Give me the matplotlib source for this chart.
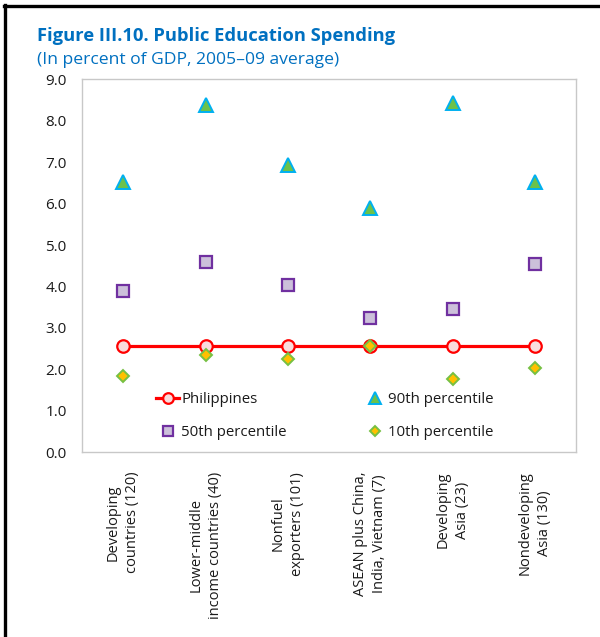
import matplotlib
matplotlib.use("Agg")
import matplotlib.pyplot as plt
from matplotlib.lines import Line2D

plt.rcParams["font.family"] = ["Open Sans", "DejaVu Sans"]

categories = [
    "Developing\ncountries (120)",
    "Lower-middle\nincome countries (40)",
    "Nonfuel\nexporters (101)",
    "ASEAN plus China,\nIndia, Vietnam (7)",
    "Developing\nAsia (23)",
    "Nondeveloping\nAsia (130)",
]
philippines = [2.56, 2.56, 2.56, 2.56, 2.56, 2.56]
p90 = [6.51, 8.37, 6.94, 5.89, 8.42, 6.51]
p50 = [3.88, 4.58, 4.03, 3.23, 3.46, 4.54]
p10 = [1.83, 2.34, 2.26, 2.56, 1.77, 2.03]
yticks = [0.0, 1.0, 2.0, 3.0, 4.0, 5.0, 6.0, 7.0, 8.0, 9.0]

W, H = 600, 637
fig = plt.figure(figsize=(W / 100, H / 100), dpi=100)
ax = fig.add_axes([82 / W, 1 - 452.3 / H, (576 - 82) / W, (452.3 - 79.3) / H])

x = list(range(len(categories)))

ax.plot(x, philippines, color="#FF0000", lw=2.3, marker="o", ms=9,
        mfc="#F9DCDC", mec="#FF0000", mew=1.6, label="Philippines", zorder=3)
ax.plot(x, p90, ls="none", marker="^", ms=9.5, mfc="#6CC24A", mec="#00B0F0",
        mew=1.4, label="90th percentile", zorder=4)
ax.plot(x, p50, ls="none", marker="s", ms=8.5, mfc="#CCC0DA", mec="#7030A0",
        mew=1.6, label="50th percentile", zorder=4)
ax.plot(x, p10, ls="none", marker="D", ms=6.3, mfc="#FFC000", mec="#76C043",
        mew=1.4, label="10th percentile", zorder=5)

ax.set_xlim(-0.5, len(categories) - 0.5)
ax.set_ylim(0, 9)
ax.set_yticks(yticks)
ax.set_yticklabels([f"{v:.1f}" for v in yticks])
ax.set_xticks(x)
ax.set_xticklabels(categories, rotation=90, ha="center", va="top",
                   multialignment="center", linespacing=1.4)
ax.tick_params(axis="both", length=0, colors="#1a1a1a")
ax.tick_params(axis="y", pad=11, labelsize=11)
ax.tick_params(axis="x", pad=14, labelsize=10.5)
for s in ax.spines.values():
    s.set_color("#C8C8C8")
    s.set_linewidth(1.0)

handles, labels = ax.get_legend_handles_labels()
order = [0, 2, 1, 3]
leg = ax.legend([handles[i] for i in order], [labels[i] for i in order],
                ncol=2, loc="center", bbox_to_anchor=(0.492, 0.097),
                frameon=False, fontsize=10.8, handlelength=1.55,
                handletextpad=0.12, columnspacing=5.1, labelspacing=1.22,
                markerscale=0.85)
for t in leg.get_texts():
    t.set_color("#1a1a1a")

fig.text(37 / W, 1 - 40.7 / H, "Figure III.10. Public Education Spending",
         color="#0070C0", fontsize=13.2, fontweight="bold", va="baseline")
fig.text(37 / W, 1 - 63.7 / H, "(In percent of GDP, 2005\u201309 average)",
         color="#0070C0", fontsize=12.6, va="baseline")

# partial frame around the figure
fig.add_artist(Line2D([5 / W, 5 / W], [0, 1 - 5 / H], color="black", lw=2.4,
                      transform=fig.transFigure))
fig.add_artist(Line2D([4 / W, 1], [1 - 5.5 / H, 1 - 5.5 / H], color="black",
                      lw=2.4, transform=fig.transFigure))

fig.savefig("out.png", dpi=100)
